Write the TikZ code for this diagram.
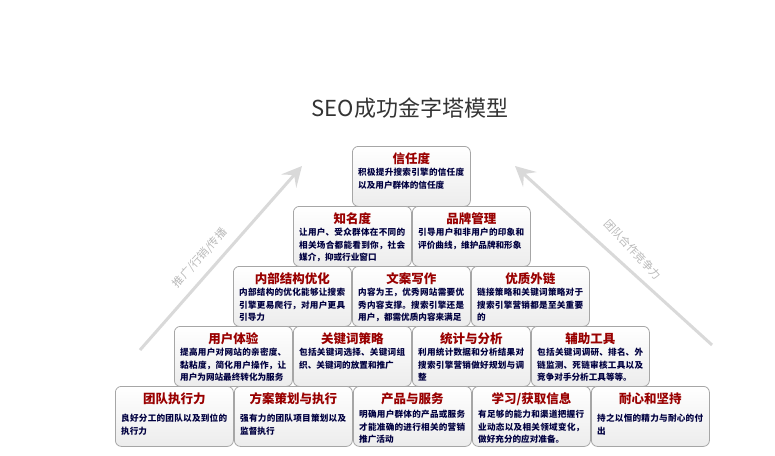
\documentclass[tikz,border=0pt]{standalone}
\usepackage{fontspec}
\setmainfont{Noto Sans CJK SC}
\XeTeXlinebreaklocale "zh"
\XeTeXlinebreakskip=0pt plus 1pt
\usetikzlibrary{arrows.meta}
\begin{document}
\begin{tikzpicture}[x=1pt,y=-1pt,
  card/.style={draw=gray!70,line width=0.8pt,rounded corners=6pt,top color=white,bottom color=gray!15,minimum width=118pt,minimum height=60pt,anchor=north west},
  ttl/.style={text=red!60!black,font=\fontsize{12.5}{14}\selectfont\bfseries,anchor=north},
  body/.style={text=blue!25!black,font=\fontsize{8.6}{12.5}\selectfont\bfseries,align=justify,text width=106pt,anchor=north west,inner sep=0pt},
  arr/.style={draw=gray!30,line width=3pt,-{Stealth[length=20pt,width=20pt,inset=8pt]}},
  side/.style={text=gray!55,font=\fontsize{11}{13}\selectfont}]
\useasboundingbox (0,0) rectangle (775,455);
\node[font=\fontsize{22}{24}\selectfont,text=black!80] (title) at (410,108) {SEO成功金字塔模型};
\coordinate (la) at (140,350); \coordinate (lb) at (302,166);
\coordinate (ra) at (712,345); \coordinate (rb) at (515,166);
\draw[arr] (la) -- (lb);
\draw[arr] (ra) -- (rb);
\node[side,rotate=48] (lt) at (200,258) {推广/行销/传播};
\node[side,rotate=-47] (rt) at (633,250) {团队合作竞争力};
\newcommand{\card}[6]{%
  \node[card] (#1) at (#2,#3) {};
  \node[ttl] (#1t) at ([yshift=-3pt]#1.north) {#4};
  \node[body] (#1b) at ([xshift=6pt,yshift=-#6pt]#1.north west) {#5};}
\card{a}{352}{146}{信任度}{积极提升搜索引擎的信任度以及用户群体的信任度}{22}
\card{b1}{293}{206}{知名度}{让用户、受众群体在不同的相关场合都能看到你，社会媒介，抑或行业窗口}{22}
\card{b2}{412}{206}{品牌管理}{引导用户和非用户的印象和评价曲线，维护品牌和形象}{22}
\card{c1}{233}{266}{内部结构优化}{内部结构的优化能够让搜索引擎更易爬行，对用户更具引导力}{22}
\card{c2}{352}{266}{文案写作}{内容为王，优秀网站需要优秀内容支撑。搜索引擎还是用户，都需优质内容来满足}{22}
\card{c3}{471}{266}{优质外链}{链接策略和关键词策略对于搜索引擎营销都是至关重要的}{22}
\card{d1}{174}{326}{用户体验}{提高用户对网站的亲密度、黏粘度，简化用户操作，让用户为网站最终转化为服务}{22}
\card{d2}{293}{326}{关键词策略}{包括关键词选择、关键词组织、关键词的放置和推广}{22}
\card{d3}{412}{326}{统计与分析}{利用统计数据和分析结果对搜索引擎营销做好规划与调整}{22}
\card{d4}{531}{326}{辅助工具}{包括关键词调研、排名、外链监测、死链审核工具以及竞争对手分析工具等等。}{22}
\card{e1}{115}{386}{团队执行力}{良好分工的团队以及到位的执行力}{28}
\card{e2}{234}{386}{方案策划与执行}{强有力的团队项目策划以及监督执行}{28}
\card{e3}{353}{386}{产品与服务}{明确用户群体的产品或服务才能准确的进行相关的营销推广活动}{24}
\card{e4}{472}{386}{学习/获取信息}{有足够的能力和渠道把握行业动态以及相关领域变化，做好充分的应对准备。}{24}
\card{e5}{591}{386}{耐心和坚持}{持之以恒的精力与耐心的付出}{28}
\end{tikzpicture}
\end{document}
